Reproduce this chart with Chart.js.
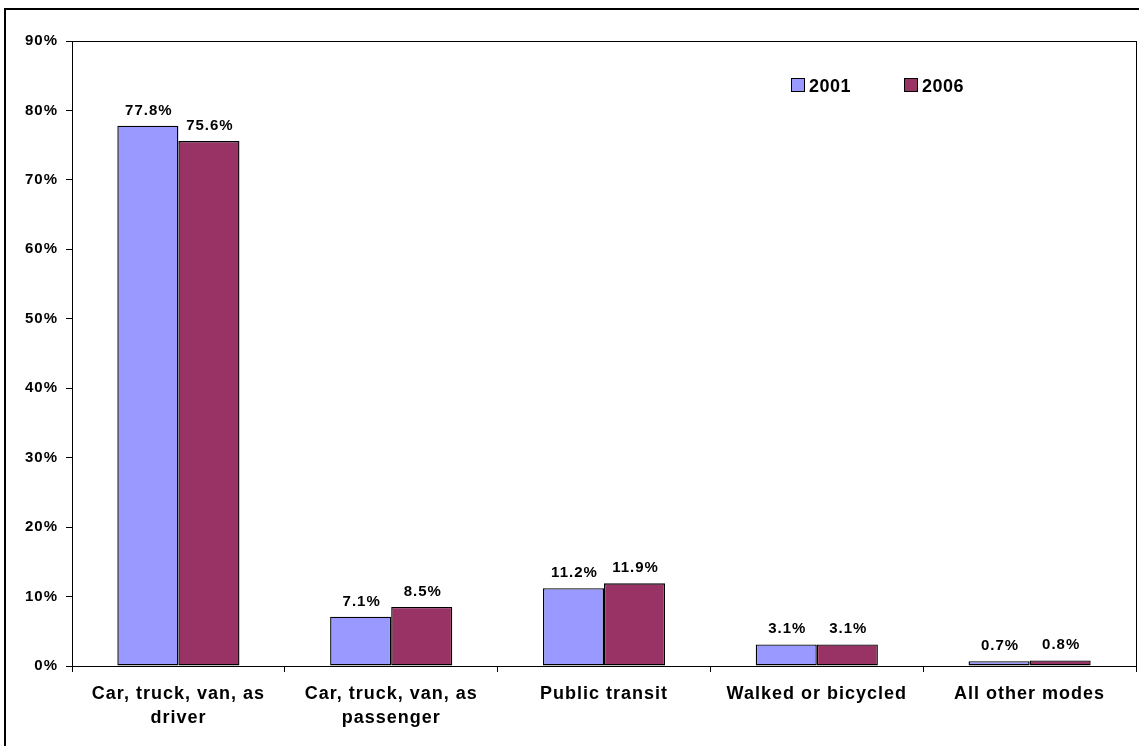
<!DOCTYPE html>
<html>
<head>
<meta charset="utf-8">
<script src="https://cdn.jsdelivr.net/npm/chart.js@4/dist/chart.umd.min.js"></script>
<style>
  html, body { margin: 0; padding: 0; background: #fff; }
  #wrap { width: 1139px; height: 746px; position: relative; }
</style>
</head>
<body>
<div id="wrap"><canvas id="chart"></canvas></div>
<script>
// commute mode shares
const categories = [
  ['Car, truck, van, as', 'driver'],
  ['Car, truck, van, as', 'passenger'],
  'Public transit',
  'Walked or bicycled',
  'All other modes'
];
const years = ['2001', '2006'];
const values2001 = [77.8, 7.1, 11.2, 3.1, 0.7];
const values2006 = [75.6, 8.5, 11.9, 3.1, 0.8];
const yTicks = [0, 10, 20, 30, 40, 50, 60, 70, 80, 90];

const FONT = "'Liberation Sans', Arial, sans-serif";

// outer frame, plot box, letter spacing
const framePlugin = {
  id: 'frame',
  beforeDraw(chart) {
    chart.ctx.letterSpacing = '1px';
  },
  afterDraw(chart) {
    const ctx = chart.ctx;
    const a = chart.chartArea;
    ctx.save();
    ctx.strokeStyle = '#000';
    ctx.lineWidth = 2;
    ctx.strokeRect(5, 9, 1200, 800);
    ctx.lineWidth = 1;
    ctx.strokeRect(Math.round(a.left) + 0.5, Math.round(a.top) + 0.5, Math.round(a.right - a.left), Math.round(a.bottom - a.top));
    ctx.restore();
  }
};

// value labels over each bar
const valueLabels = {
  id: 'valueLabels',
  afterDatasetsDraw(chart) {
    const ctx = chart.ctx;
    ctx.save();
    ctx.font = 'bold 15px ' + FONT;
    ctx.letterSpacing = '1px';
    ctx.fillStyle = '#000';
    ctx.textAlign = 'center';
    ctx.textBaseline = 'alphabetic';
    chart.data.datasets.forEach((ds, i) => {
      chart.getDatasetMeta(i).data.forEach((bar, j) => {
        ctx.fillText(ds.data[j].toFixed(1) + '%', bar.x + 1, bar.y - 11);
      });
    });
    ctx.restore();
  }
};

// legend in the top right of the plot
const legendBox = {
  id: 'legendBox',
  afterDraw(chart) {
    const ctx = chart.ctx;
    const a = chart.chartArea;
    ctx.save();
    ctx.font = 'bold 18px ' + FONT;
    ctx.letterSpacing = '0.5px';
    ctx.textBaseline = 'alphabetic';
    ctx.textAlign = 'left';
    const xs = [a.left + 719, a.left + 832];
    const y = a.top + 37;
    chart.data.datasets.forEach((ds, i) => {
      ctx.fillStyle = ds.backgroundColor;
      ctx.fillRect(xs[i], y, 14, 14);
      ctx.strokeStyle = '#000';
      ctx.lineWidth = 1;
      ctx.strokeRect(xs[i] + 0.5, y + 0.5, 13, 13);
      ctx.fillStyle = '#000';
      ctx.fillText(ds.label, xs[i] + 18, y + 14);
    });
    ctx.restore();
  }
};

new Chart(document.getElementById('chart'), {
  type: 'bar',
  data: {
    labels: categories,
    datasets: [
      { label: years[0], data: values2001, backgroundColor: '#9999FF', borderColor: '#000', borderWidth: 1.4, borderSkipped: false },
      { label: years[1], data: values2006, backgroundColor: '#993366', borderColor: '#000', borderWidth: 1.4, borderSkipped: false }
    ]
  },
  options: {
    responsive: true,
    maintainAspectRatio: false,
    animation: false,
    layout: { padding: { left: 0, top: 41, right: 3, bottom: 0 } },
    datasets: { bar: { categoryPercentage: 0.574, barPercentage: 1 } },
    plugins: {
      legend: { display: false },
      tooltip: { enabled: false }
    },
    scales: {
      x: {
        offset: true,
        afterFit(scale) { scale.height = 80; },
        grid: { offset: true, drawOnChartArea: false, drawTicks: true, tickLength: 6, color: '#000' },
        border: { display: true, color: '#000', width: 1 },
        ticks: {
          color: '#000',
          padding: 10,
          maxRotation: 0,
          autoSkip: false,
          font: { family: FONT, size: 18, weight: 'bold', lineHeight: 1.33 }
        }
      },
      y: {
        min: yTicks[0],
        max: yTicks[yTicks.length - 1],
        afterFit(scale) { scale.width = 72; },
        afterBuildTicks(scale) { scale.ticks = yTicks.map(v => ({ value: v })); },
        grid: { drawOnChartArea: false, drawTicks: true, tickLength: 6, color: '#000' },
        border: { display: true, color: '#000', width: 1 },
        ticks: {
          color: '#000',
          padding: 8,
          font: { family: FONT, size: 15, weight: 'bold' },
          callback: v => v + '%'
        }
      }
    }
  },
  plugins: [framePlugin, valueLabels, legendBox]
});
</script>
</body>
</html>
